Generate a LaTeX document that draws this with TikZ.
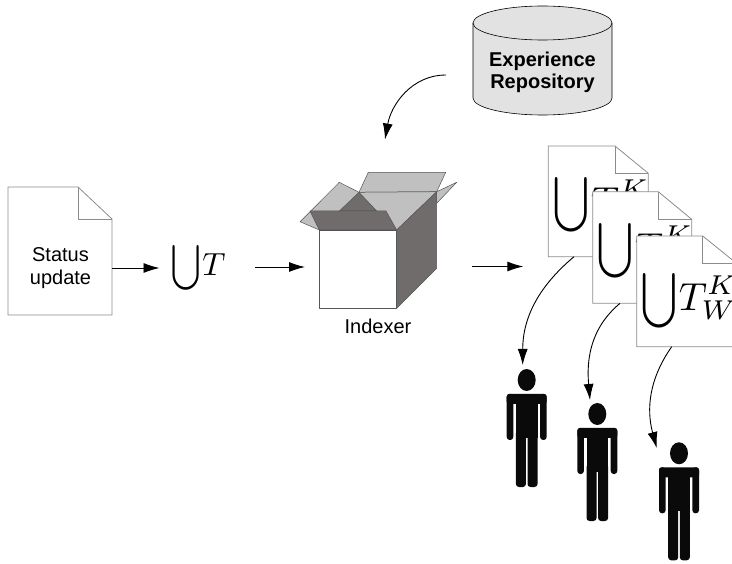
\documentclass[tikz,border=0pt]{standalone}
\usepackage{fontspec}
\setmainfont{Liberation Sans}
\usetikzlibrary{arrows.meta}

\definecolor{docedge}{RGB}{140,140,140}
\definecolor{flap}{RGB}{192,192,192}
\definecolor{shade}{RGB}{112,108,108}
\definecolor{drum}{RGB}{226,226,226}
\definecolor{ink}{RGB}{10,10,10}
\definecolor{boxedge}{RGB}{85,85,85}

% a narrow display-size union sign followed by the term set
\newcommand\narrowcup{\scalebox{0.82}[1]{$\displaystyle\bigcup$}}
\newcommand\unionterms[1]{\scalebox{#1}{\normalsize$\displaystyle\narrowcup\mkern1mu T$}}
\newcommand\unionpersonal[1]{\scalebox{#1}{\normalsize$\displaystyle\narrowcup\mkern1mu T_W^K$}}

\tikzset{
  sheet/.style={draw=docedge, fill=white, line width=0.8pt},
  foldline/.style={draw=docedge, line width=0.8pt},
  sanstext/.style={font=\fontsize{20}{22.6}\selectfont, align=center, inner sep=0pt},
  boldtext/.style={sanstext, font=\fontsize{20}{22}\selectfont\bfseries},
  mathbig/.style={inner sep=0pt},
  mathdoc/.style={inner sep=0pt, anchor=west},
  flow/.style={-{Latex[length=16pt,width=10pt]}, line width=0.9pt},
  carton/.style={draw=boxedge, line width=0.5pt, line join=round},
  person/.pic={
    \fill[ink] (0,0) ellipse[x radius=9, y radius=11];
    \fill[ink, rounded corners=3pt] (-20,-14) rectangle (-13.4,-60);
    \fill[ink, rounded corners=3pt] (13.4,-14) rectangle (20,-60);
    \fill[ink, rounded corners=2.5pt] (-20,-14) rectangle (20,-24);
    \fill[ink] (-10.8,-16) rectangle (10.8,-58);
    \fill[ink, rounded corners=3pt] (-10.8,-50) rectangle (-0.8,-107);
    \fill[ink, rounded corners=3pt] (0.8,-50) rectangle (10.8,-107);
  },
}

\begin{document}
\begin{tikzpicture}[x=1pt, y=1pt]
\useasboundingbox (0,0) rectangle (732,-564);

% ---- status update page ----
\draw[sheet] (8,-187) -- (78,-187) -- (112,-219) -- (112,-315) -- (8,-315) -- cycle;
\draw[foldline] (78,-187) -- (78,-219) -- (112,-219);
\node[sanstext] (status) at (60.5,-268) {Status\\update};
\coordinate (statusR) at (112,-268);

% ---- union of terms ----
\node[mathbig] (unionT) at (198.5,-267.5) {\unionterms{3.2}};
\coordinate (unionIn) at (159.5,-268);
\coordinate (unionOut) at (255,-267);
\coordinate (boxIn) at (305,-267);

% ---- experience repository drum ----
\path[draw=black, line width=0.6pt, fill=drum]
  (473,-23) -- (473,-98) arc[start angle=180, end angle=360, x radius=69.5, y radius=17]
  -- (612,-23) arc[start angle=0, end angle=180, x radius=69.5, y radius=17] -- cycle;
\draw[line width=0.6pt] (473,-23) arc[start angle=180, end angle=360, x radius=69.5, y radius=17];
\node[boldtext] (repo) at (542.5,-72) {Experience\\Repository};
\coordinate (repoOut) at (446,-75);
\coordinate (boxTop) at (385,-139.5);

% ---- indexer carton ----
\filldraw[carton, fill=flap] (359,-192.3) -- (368.3,-172.3) -- (445.7,-172.3) -- (436.7,-191.7) -- cycle;
\filldraw[carton, fill=flap] (436.7,-191.7) -- (456.7,-182.3) -- (436.7,-203.3) -- cycle;
\filldraw[carton, fill=flap] (359,-192.3) -- (436.7,-191.7) -- (396.7,-230) -- (319.3,-230) -- cycle;
\filldraw[carton, fill=shade] (339.3,-211) -- (359,-192.3) -- (376.7,-211) -- cycle;
\filldraw[carton, fill=flap] (300,-221.7) -- (339.3,-182.3) -- (359,-192.3) -- (319.3,-230) -- cycle;
\filldraw[carton, fill=shade] (310,-211) -- (386,-211) -- (396.7,-230) -- (319.3,-230) -- cycle;
\filldraw[carton, fill=white] (319.3,-230) rectangle (396.7,-308.3);
\filldraw[carton, fill=shade] (396.7,-230) -- (436.7,-191.7) -- (436.7,-268.3) -- (396.7,-308.3) -- cycle;
\node[sanstext, anchor=base] (indexer) at (378,-334) {Indexer};
\coordinate (boxOut) at (472,-266.5);
\coordinate (pagesIn) at (523.3,-266.5);

% ---- personalised result pages ----
\begin{scope}
\clip (0,0) rectangle (732,-564);
\draw[sheet] (548.3,-146) -- (615,-146) -- (648.3,-173.3) -- (648.3,-256.7) -- (548.3,-256.7) -- cycle;
\draw[foldline] (615,-146) -- (615,-173.3) -- (648.3,-173.3);
\node[mathdoc] (page1) at (553,-205) {\unionpersonal{3.9}};

\draw[sheet] (592.7,-191.7) -- (658.3,-191.7) -- (691.7,-219.3) -- (691.7,-303.3) -- (592.7,-303.3) -- cycle;
\draw[foldline] (658.3,-191.7) -- (658.3,-219.3) -- (691.7,-219.3);
\node[mathdoc] (page2) at (597,-250.5) {\unionpersonal{3.9}};

\draw[sheet] (636.7,-236) -- (702.7,-236) -- (736.5,-263.3) -- (736.5,-346.7) -- (636.7,-346.7) -- cycle;
\draw[foldline] (702.7,-236) -- (702.7,-263.3) -- (736.5,-263.3);
\node[mathdoc] (page3) at (641,-300.5) {\unionpersonal{3.9}};
\end{scope}
\coordinate (page1foot) at (574,-256.7);
\coordinate (page2foot) at (620,-303.3);
\coordinate (page3foot) at (671.7,-346.7);

% ---- readers ----
\pic (reader1) at (526.7,-380) {person};
\pic (reader2) at (597.3,-414) {person};
\pic (reader3) at (679,-453.3) {person};
\coordinate (reader1top) at (522.7,-365);
\coordinate (reader2top) at (590,-400);
\coordinate (reader3top) at (656.7,-448);

% ---- connectors ----
\draw[flow] (statusR) -- (unionIn);
\draw[flow] (unionOut) -- (boxIn);
\draw[flow] (repoOut) to[out=180, in=80] (boxTop);
\draw[flow] (boxOut) -- (pagesIn);
\draw[flow] (page1foot) to[out=220, in=90] (reader1top);
\draw[flow] (page2foot) to[out=220, in=95] (reader2top);
\draw[flow] (page3foot) to[out=235, in=105] (reader3top);
\end{tikzpicture}
\end{document}
